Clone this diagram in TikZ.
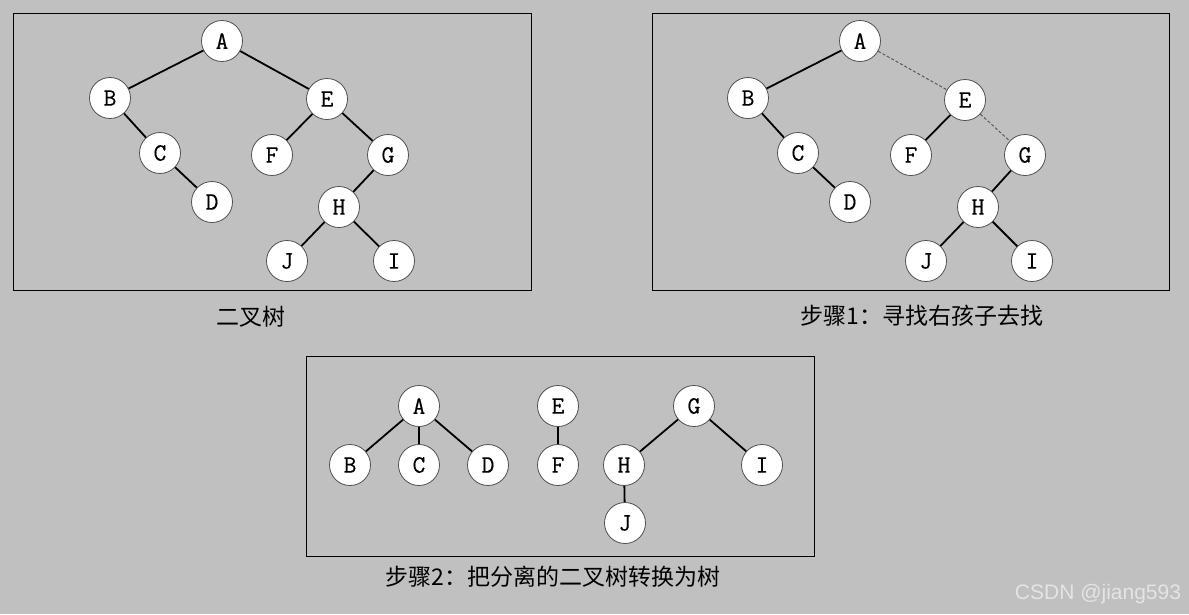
\documentclass[tikz,border=0pt]{standalone}
\usepackage{fontspec}
\newfontfamily\cjk{Noto Sans CJK SC}
\newfontfamily\letterfont[FakeBold=0.3]{Latin Modern Mono}
\newfontfamily\wmfont{Liberation Sans}
\definecolor{bg}{HTML}{C0C0C0}
\definecolor{nodeborder}{HTML}{505050}
\definecolor{wm}{HTML}{E4E4E4}
\begin{document}
\begin{tikzpicture}[x=1pt,y=-1pt,
  tn/.style={circle,draw=nodeborder,fill=white,line width=0.8pt,minimum size=41pt,inner sep=0pt,font=\letterfont\fontsize{25}{25}\selectfont},
  edge/.style={line width=1.8pt,black},
  dedge/.style={line width=1pt,dash pattern=on 3pt off 2pt,black!65},
  panel/.style={draw=black,line width=1pt},
  captext/.style={font=\cjk\fontsize{23}{23}\selectfont,inner sep=0pt}]
\fill[bg] (0,0) rectangle (1189,614);
\useasboundingbox (0,0) rectangle (1189,614);
% panel 1
\draw[panel] (13,13) rectangle (531,290);
\node[tn] (a1) at (222,41) {A};
\node[tn] (b1) at (110,98) {B};
\node[tn] (e1) at (327,99) {E};
\node[tn] (c1) at (160,153) {C};
\node[tn] (f1) at (272,155) {F};
\node[tn] (g1) at (388,155) {G};
\node[tn] (d1) at (212,202) {D};
\node[tn] (h1) at (339,207) {H};
\node[tn] (j1) at (287,261) {J};
\node[tn] (i1) at (394,261) {I};
\draw[edge] (a1)--(b1); \draw[edge] (a1)--(e1);
\draw[edge] (b1)--(c1); \draw[edge] (c1)--(d1);
\draw[edge] (e1)--(f1); \draw[edge] (e1)--(g1);
\draw[edge] (g1)--(h1); \draw[edge] (h1)--(j1); \draw[edge] (h1)--(i1);
\node[captext] (cap1) at (251,317) {二叉树};
% panel 2
\draw[panel] (652,13) rectangle (1169,290);
\node[tn] (a2) at (860,41) {A};
\node[tn] (b2) at (748,98) {B};
\node[tn] (e2) at (965,100) {E};
\node[tn] (c2) at (798,153) {C};
\node[tn] (f2) at (911,155) {F};
\node[tn] (g2) at (1025,155) {G};
\node[tn] (d2) at (850,202) {D};
\node[tn] (h2) at (978,207) {H};
\node[tn] (j2) at (926,261) {J};
\node[tn] (i2) at (1032,261) {I};
\draw[edge] (a2)--(b2); \draw[dedge] (a2)--(e2);
\draw[edge] (b2)--(c2); \draw[edge] (c2)--(d2);
\draw[edge] (e2)--(f2); \draw[dedge] (e2)--(g2);
\draw[edge] (g2)--(h2); \draw[edge] (h2)--(j2); \draw[edge] (h2)--(i2);
\node[captext] (cap2) at (922,316) {步骤1：寻找右孩子去找};
% panel 3
\draw[panel] (306,356) rectangle (814,556);
\node[tn] (a3) at (419,406) {A};
\node[tn] (b3) at (350,465) {B};
\node[tn] (c3) at (419,465) {C};
\node[tn] (d3) at (488,465) {D};
\node[tn] (e3) at (558,406) {E};
\node[tn] (f3) at (558,465) {F};
\node[tn] (g3) at (694,406) {G};
\node[tn] (h3) at (624,465) {H};
\node[tn] (i3) at (762,465) {I};
\node[tn] (j3) at (625,523) {J};
\draw[edge] (a3)--(b3); \draw[edge] (a3)--(c3); \draw[edge] (a3)--(d3);
\draw[edge] (e3)--(f3);
\draw[edge] (g3)--(h3); \draw[edge] (g3)--(i3); \draw[edge] (h3)--(j3);
\node[captext] (cap3) at (553,577) {步骤2：把分离的二叉树转换为树};
% watermark
\node[font=\wmfont\fontsize{21}{21}\selectfont,text=wm,inner sep=0pt] (wm) at (1098,594) {CSDN @jiang593};
\end{tikzpicture}
\end{document}
